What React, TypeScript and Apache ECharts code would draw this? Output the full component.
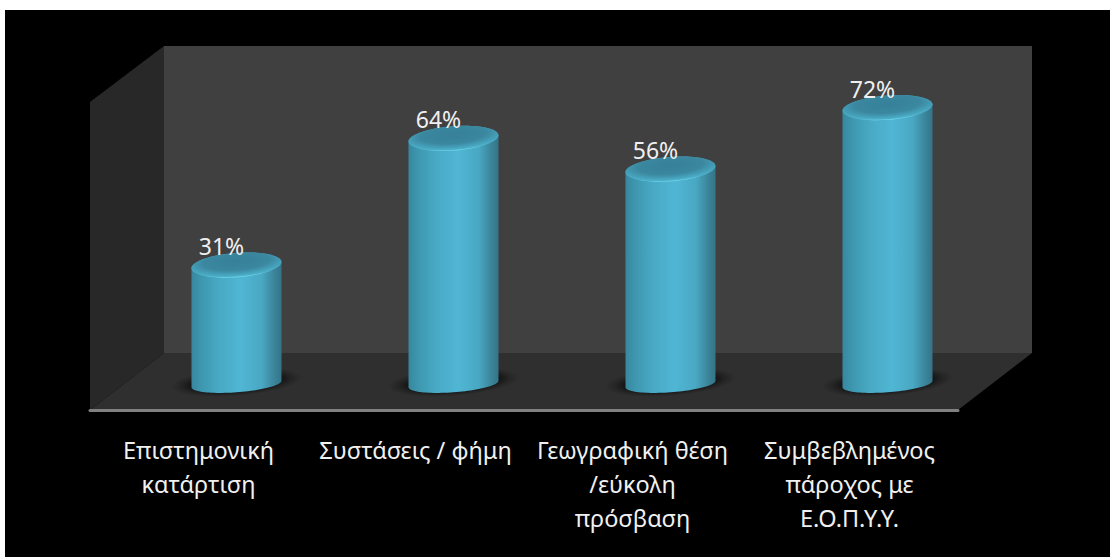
import React, { useEffect, useRef } from "react";
import * as echarts from "echarts";

const categories = [
  "Επιστημονική\nκατάρτιση",
  "Συστάσεις / φήμη",
  "Γεωγραφική θέση\n/εύκολη\nπρόσβαση",
  "Συμβεβλημένος\nπάροχος με\nΕ.Ο.Π.Υ.Υ.",
];
const percentages = [31, 64, 56, 72];
const valueMax = 80;

const FONT = '"Noto Sans", sans-serif';
const TEXT_COLOR = "#f0f0f0";
const TILT = 0.075;

// Outline of the cylinder wall: vertical sides closed by the tilted top and a flatter base curve.
function wallOutline(cx: number, topY: number, baseY: number, a: number, bTop: number, bBase: number) {
  const cos = Math.cos(TILT);
  const sin = Math.sin(TILT);
  const at = (t: number, cy: number, b: number) => [
    cx + a * Math.cos(t) * cos + b * Math.sin(t) * sin,
    cy - a * Math.cos(t) * sin + b * Math.sin(t) * cos,
  ];
  const steps = 48;
  const lower: number[][] = [];
  const upper: number[][] = [];
  const t0Base = Math.atan2(bBase * sin, a * cos);
  const t0Top = Math.atan2(bTop * sin, a * cos);
  for (let i = 0; i <= steps; i++) lower.push(at(t0Base + (Math.PI * i) / steps, baseY, bBase));
  for (let i = 0; i <= steps; i++) upper.push(at(t0Top + Math.PI + (Math.PI * i) / steps, topY, bTop));
  return [...lower, ...upper];
}

function renderCylinder(_params: any, api: any) {
  const cat = api.value(0);
  const val = api.value(1);
  const [cx, topY] = api.coord([cat, val]);
  const [, baseY] = api.coord([cat, 0]);
  const band = api.size([1, 0])[0];
  const a = band * 0.208;
  const b = a * 0.27;
  const bBase = b * 0.68;

  return {
    type: "group",
    children: [
      {
        type: "ellipse",
        x: cx,
        y: baseY - 2,
        rotation: TILT,
        shape: { cx: 0, cy: 0, rx: a * 1.46, ry: b * 1.15 },
        style: {
          fill: new echarts.graphic.RadialGradient(0.5, 0.5, 0.5, [
            { offset: 0, color: "rgba(0,0,0,0.75)" },
            { offset: 0.65, color: "rgba(0,0,0,0.62)" },
            { offset: 0.85, color: "rgba(0,0,0,0.2)" },
            { offset: 1, color: "rgba(0,0,0,0)" },
          ]),
        },
      },
      {
        type: "polygon",
        shape: { points: wallOutline(cx, topY, baseY, a, b, bBase) },
        style: {
          fill: new echarts.graphic.LinearGradient(0, 0, 1, 0, [
            { offset: 0, color: "#37879e" },
            { offset: 0.1, color: "#3d96ae" },
            { offset: 0.3, color: "#48a9c4" },
            { offset: 0.55, color: "#50b6d4" },
            { offset: 0.78, color: "#49a8c3" },
            { offset: 0.92, color: "#3b8499" },
            { offset: 1, color: "#347488" },
          ]),
        },
      },
      {
        type: "ellipse",
        x: cx,
        y: topY,
        rotation: TILT,
        shape: { cx: 0, cy: 0, rx: a, ry: b },
        style: {
          fill: new echarts.graphic.RadialGradient(0.5, 0.35, 0.655, [
            { offset: 0, color: "#37809a" },
            { offset: 0.55, color: "#3a879f" },
            { offset: 0.78, color: "#459fb8" },
            { offset: 0.92, color: "#4db0ca" },
            { offset: 1, color: "#7be4f5" },
          ]),
        },
      },
      {
        type: "text",
        x: cx - 15,
        y: topY - 19,
        style: {
          text: `${val}%`,
          fill: TEXT_COLOR,
          font: `23px ${FONT}`,
          align: "center",
          verticalAlign: "middle",
        },
      },
    ],
  };
}

export default function App() {
  const ref = useRef<HTMLDivElement>(null);

  useEffect(() => {
    document.body.style.margin = "0";
    const chart = echarts.init(ref.current!, null, { renderer: "svg" });
    chart.setOption({
      animation: false,
      backgroundColor: "#ffffff",
      graphic: [
        { type: "rect", z: -3, shape: { x: 5, y: 10, width: 1105, height: 547 }, style: { fill: "#000000" } },
        { type: "rect", z: -2, shape: { x: 164, y: 46, width: 868, height: 307 }, style: { fill: "#404040" } },
        {
          type: "polygon",
          z: -2,
          shape: { points: [[90, 102], [164, 46], [164, 353], [90, 410]] },
          style: { fill: "#282828" },
        },
        {
          type: "polygon",
          z: -2,
          shape: { points: [[164, 353], [1032, 353], [958, 410], [90, 410]] },
          style: { fill: "#2f2f2f" },
        },
      ],
      grid: [
        { left: 90, width: 868, top: 77, height: 333 },
        { left: 128, width: 868, top: 77, height: 307 },
      ],
      xAxis: [
        {
          gridIndex: 0,
          type: "category",
          data: categories,
          axisTick: { show: false },
          axisLine: { lineStyle: { color: "#808080", width: 3 } },
          axisLabel: {
            color: TEXT_COLOR,
            fontFamily: FONT,
            fontSize: 23.5,
            lineHeight: 34,
            margin: 23,
            interval: 0,
          },
        },
        { gridIndex: 1, type: "category", data: categories, show: false },
      ],
      yAxis: [
        { gridIndex: 0, type: "value", min: 0, max: valueMax, show: false },
        { gridIndex: 1, type: "value", min: 0, max: valueMax, show: false },
      ],
      series: [
        {
          type: "custom",
          xAxisIndex: 1,
          yAxisIndex: 1,
          renderItem: renderCylinder,
          encode: { x: 0, y: 1 },
          data: percentages.map((v, i) => [i, v]),
          z: 5,
        },
      ],
    });
    return () => chart.dispose();
  }, []);

  return <div ref={ref} style={{ width: 1110, height: 557 }} />;
}
